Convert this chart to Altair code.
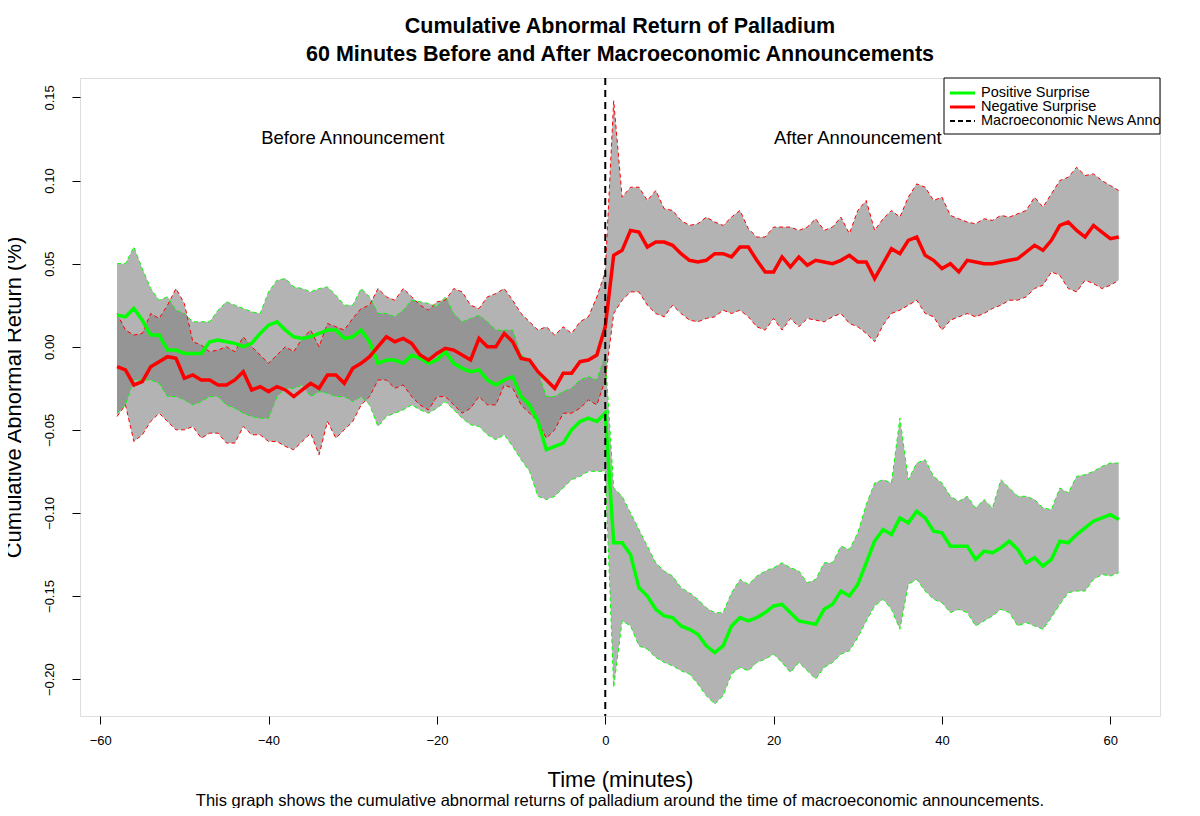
import altair as alt
import pandas as pd

minutes = list(range(-58, 62))

pos_mean = [0.019,0.018,0.023,0.016,0.007,0.007,-0.002,-0.002,-0.004,-0.004,-0.004,0.003,0.004,0.003,0.002,0.0,0.002,0.008,0.013,0.015,
0.01,0.006,0.005,0.006,0.008,0.01,0.01,0.005,0.006,0.01,0.003,-0.01,-0.008,-0.008,-0.01,-0.005,-0.007,-0.01,-0.008,-0.003,
-0.01,-0.013,-0.015,-0.014,-0.02,-0.023,-0.02,-0.018,-0.03,-0.035,-0.045,-0.062,-0.06,-0.058,-0.05,-0.045,-0.043,-0.045,-0.04,
-0.118,-0.118,-0.125,-0.145,-0.15,-0.158,-0.162,-0.163,-0.168,-0.17,-0.173,-0.18,-0.184,-0.18,-0.168,-0.163,-0.165,-0.163,-0.16,-0.156,
-0.155,-0.16,-0.165,-0.166,-0.167,-0.158,-0.155,-0.147,-0.15,-0.143,-0.13,-0.117,-0.11,-0.113,-0.103,-0.106,-0.099,-0.103,-0.111,-0.112,
-0.12,-0.12,-0.12,-0.128,-0.123,-0.124,-0.121,-0.117,-0.122,-0.13,-0.127,-0.132,-0.128,-0.117,-0.118,-0.113,-0.109,-0.105,-0.103,-0.101,-0.104]
pos_upper = [0.05,0.05,0.06,0.047,0.035,0.028,0.03,0.022,0.02,0.015,0.015,0.015,0.022,0.027,0.025,0.023,0.021,0.02,0.033,0.04,
0.041,0.036,0.035,0.033,0.035,0.036,0.031,0.025,0.025,0.035,0.03,0.02,0.02,0.018,0.022,0.028,0.027,0.026,0.024,0.03,
0.02,0.015,0.017,0.019,0.015,0.01,0.01,0.01,-0.005,-0.008,-0.015,-0.03,-0.03,-0.027,-0.025,-0.02,-0.018,-0.02,-0.005,
-0.085,-0.09,-0.1,-0.11,-0.12,-0.13,-0.135,-0.138,-0.145,-0.148,-0.152,-0.157,-0.16,-0.16,-0.148,-0.14,-0.143,-0.138,-0.135,-0.133,
-0.13,-0.133,-0.135,-0.142,-0.14,-0.13,-0.13,-0.12,-0.122,-0.112,-0.095,-0.082,-0.08,-0.082,-0.043,-0.08,-0.07,-0.068,-0.078,-0.082,
-0.09,-0.093,-0.09,-0.097,-0.092,-0.097,-0.08,-0.085,-0.09,-0.09,-0.092,-0.097,-0.098,-0.085,-0.088,-0.078,-0.077,-0.075,-0.072,-0.07,-0.07]
pos_lower = [-0.04,-0.035,-0.02,-0.02,-0.02,-0.022,-0.03,-0.03,-0.032,-0.035,-0.033,-0.03,-0.03,-0.035,-0.037,-0.04,-0.042,-0.043,-0.043,-0.03,
-0.025,-0.025,-0.023,-0.03,-0.027,-0.028,-0.03,-0.03,-0.033,-0.03,-0.035,-0.048,-0.042,-0.04,-0.038,-0.035,-0.038,-0.04,-0.037,-0.033,
-0.038,-0.043,-0.047,-0.048,-0.053,-0.056,-0.053,-0.06,-0.068,-0.075,-0.09,-0.092,-0.09,-0.085,-0.08,-0.078,-0.075,-0.075,-0.075,
-0.205,-0.165,-0.168,-0.18,-0.182,-0.187,-0.19,-0.192,-0.195,-0.197,-0.203,-0.21,-0.215,-0.21,-0.197,-0.193,-0.195,-0.19,-0.188,-0.185,
-0.19,-0.196,-0.19,-0.195,-0.2,-0.193,-0.19,-0.185,-0.183,-0.175,-0.165,-0.156,-0.152,-0.158,-0.17,-0.143,-0.14,-0.147,-0.152,-0.154,
-0.16,-0.158,-0.16,-0.168,-0.165,-0.162,-0.158,-0.16,-0.168,-0.166,-0.168,-0.17,-0.163,-0.155,-0.148,-0.147,-0.147,-0.14,-0.137,-0.138,-0.136]

neg_mean = [-0.012,-0.014,-0.023,-0.021,-0.012,-0.009,-0.006,-0.007,-0.019,-0.017,-0.02,-0.02,-0.023,-0.023,-0.02,-0.015,-0.026,-0.024,-0.027,-0.024,
-0.026,-0.03,-0.026,-0.022,-0.025,-0.017,-0.017,-0.022,-0.013,-0.01,-0.006,0.0,0.006,0.003,0.005,0.002,-0.005,-0.008,-0.004,-0.001,
-0.002,-0.005,-0.008,0.005,0.0,0.0,0.008,0.003,-0.007,-0.008,-0.015,-0.02,-0.025,-0.016,-0.016,-0.009,-0.008,-0.005,0.012,
0.055,0.058,0.07,0.069,0.06,0.063,0.063,0.061,0.056,0.052,0.051,0.052,0.056,0.056,0.054,0.06,0.06,0.052,0.045,0.045,
0.054,0.048,0.054,0.049,0.052,0.051,0.05,0.052,0.055,0.051,0.051,0.041,0.05,0.059,0.056,0.064,0.066,0.055,0.052,0.047,
0.05,0.045,0.052,0.051,0.05,0.05,0.051,0.052,0.053,0.057,0.061,0.058,0.064,0.073,0.075,0.07,0.066,0.073,0.069,0.065,0.066]
neg_upper = [0.02,0.01,0.007,0.008,0.02,0.017,0.025,0.035,0.026,0.003,0.001,-0.003,-0.002,0.0,-0.003,0.006,0.0,-0.005,-0.01,-0.005,
0.0,-0.003,0.005,0.01,0.0,0.014,0.012,0.01,0.017,0.023,0.025,0.035,0.03,0.028,0.035,0.03,0.025,0.022,0.027,0.028,
0.035,0.033,0.025,0.023,0.03,0.032,0.035,0.028,0.02,0.015,0.01,0.012,0.007,0.012,0.008,0.015,0.018,0.03,0.045,
0.148,0.09,0.096,0.096,0.088,0.094,0.083,0.082,0.076,0.073,0.074,0.078,0.075,0.073,0.078,0.082,0.071,0.066,0.066,0.072,
0.072,0.072,0.07,0.072,0.077,0.07,0.072,0.078,0.068,0.082,0.088,0.07,0.077,0.082,0.078,0.09,0.098,0.096,0.088,0.09,
0.079,0.077,0.075,0.074,0.077,0.076,0.079,0.078,0.08,0.082,0.09,0.084,0.092,0.1,0.102,0.108,0.103,0.104,0.1,0.097,0.094]
neg_lower = [-0.042,-0.035,-0.057,-0.053,-0.045,-0.04,-0.045,-0.05,-0.05,-0.048,-0.055,-0.052,-0.052,-0.058,-0.058,-0.048,-0.053,-0.053,-0.057,-0.057,
-0.06,-0.062,-0.057,-0.052,-0.065,-0.045,-0.055,-0.05,-0.045,-0.035,-0.03,-0.02,-0.02,-0.025,-0.023,-0.03,-0.035,-0.038,-0.03,-0.03,
-0.035,-0.04,-0.037,-0.03,-0.035,-0.035,-0.023,-0.025,-0.035,-0.04,-0.045,-0.055,-0.05,-0.04,-0.04,-0.037,-0.032,-0.035,-0.02,
0.02,0.028,0.033,0.033,0.025,0.02,0.018,0.025,0.02,0.016,0.015,0.017,0.018,0.022,0.02,0.022,0.018,0.012,0.01,0.017,
0.01,0.017,0.012,0.017,0.016,0.015,0.018,0.02,0.014,0.012,0.008,0.003,0.013,0.02,0.022,0.025,0.028,0.02,0.018,0.01,
0.016,0.018,0.02,0.018,0.02,0.023,0.025,0.028,0.028,0.03,0.035,0.037,0.045,0.043,0.035,0.033,0.04,0.038,0.035,0.037,0.04]

series = ["Positive Surprise", "Negative Surprise"]
colors = ["#00ff00", "#ff0000"]

rows = []
for name, m, u, l in [(series[0], pos_mean, pos_upper, pos_lower), (series[1], neg_mean, neg_upper, neg_lower)]:
    for t, a, b, c in zip(minutes, m, u, l):
        rows.append({"t": t, "mean": a, "upper": b, "lower": c, "series": name})
df = pd.DataFrame(rows)

W, H = 1080, 638
xs = alt.Scale(domain=[-62.4, 65.9], nice=False, zero=False)
ys = alt.Scale(domain=[-0.2222, 0.1617], nice=False, zero=False)
col = alt.Color("series:N", scale=alt.Scale(domain=series, range=colors), legend=None)

base = alt.Chart(df)
xenc = alt.X("t:Q", scale=xs, title="Time (minutes)",
             axis=alt.Axis(values=[-60, -40, -20, 0, 20, 40, 60], grid=False, domain=False,
                           tickColor="black", tickSize=8, labelFontSize=13, labelColor="black",
                           labelPadding=10, titleFontSize=22, titleFontWeight="normal",
                           titlePadding=22, titleColor="black"))
yenc_axis = alt.Axis(values=[-0.2, -0.15, -0.1, -0.05, 0, 0.05, 0.1, 0.15], format=".2f", grid=False,
                     domain=False, tickColor="black", tickSize=8, labelAngle=-90, labelAlign="center",
                     labelBaseline="bottom", labelPadding=16, labelFontSize=13, labelColor="black",
                     titleFontSize=22, titleFontWeight="normal", titlePadding=18, titleColor="black")

band = base.mark_area(color="#808080", opacity=0.6, clip=True).encode(
    x=xenc,
    y=alt.Y("upper:Q", scale=ys, title="Cumulative Abnormal Return (%)", axis=yenc_axis),
    y2="lower:Q", detail="series:N")
up = base.mark_line(strokeWidth=1, strokeDash=[4, 3], clip=True).encode(
    x="t:Q", y="upper:Q", color=col, detail="series:N")
lo = base.mark_line(strokeWidth=1, strokeDash=[4, 3], clip=True).encode(
    x="t:Q", y="lower:Q", color=col, detail="series:N")
mean = base.mark_line(strokeWidth=3.5, clip=True).encode(x="t:Q", y="mean:Q", color=col)

vline_df = pd.DataFrame({"t": [0]})
vline = alt.Chart(vline_df).mark_rule(color="black", strokeWidth=2, strokeDash=[7, 5]).encode(x="t:Q")

labels_df = pd.DataFrame({"t": [-30, 30], "v": [0.1255, 0.1255],
                          "txt": ["Before Announcement", "After Announcement"]})
labels = alt.Chart(labels_df).mark_text(fontSize=18.5, color="black", font="Liberation Sans").encode(
    x="t:Q", y="v:Q", text="txt:N")

caption = "This graph shows the cumulative abnormal returns of palladium around the time of macroeconomic announcements."
cap = alt.Chart(pd.DataFrame({"c": [caption]})).mark_text(fontSize=16.5, color="black", baseline="middle",
                                                          font="Liberation Sans").encode(
    x=alt.value(540), y=alt.value(723), text="c:N")

# legend
leg_names = ["Positive Surprise", "Negative Surprise", "Macroeconomic News Announcement"]
leg_colors = ["#00ff00", "#ff0000", "#000000"]
leg_box = alt.Chart(pd.DataFrame({"a": [0]})).mark_rect(fill="white", stroke="black", strokeWidth=1).encode(
    x=alt.value(864), x2=alt.value(1080), y=alt.value(0), y2=alt.value(56))
leg_layers = [leg_box]
for i, (n, c) in enumerate(zip(leg_names, leg_colors)):
    yy = 15 + 14 * i
    d = pd.DataFrame({"n": [n]})
    leg_layers.append(alt.Chart(d).mark_rule(color=c, strokeWidth=3 if i < 2 else 2,
                                             strokeDash=[1, 0] if i < 2 else [5, 3]).encode(
        x=alt.value(870), x2=alt.value(895), y=alt.value(yy)))
    leg_layers.append(alt.Chart(d).mark_text(align="left", baseline="middle", fontSize=14.5,
                                             color="black", clip=True, font="Liberation Sans").encode(
        x=alt.value(901), y=alt.value(yy), text="n:N"))

chart = alt.layer(band, up, lo, mean, vline, labels, *leg_layers, cap).properties(
    width=W, height=H,
    autosize=alt.AutoSizeParams(type="none"),
    padding={"left": 72, "top": 70, "right": 32, "bottom": 92},
    title=alt.TitleParams(
        text=["Cumulative Abnormal Return of Palladium",
              "60 Minutes Before and After Macroeconomic Announcements"],
        fontSize=21.5, fontWeight="bold", color="black", anchor="middle", offset=12, lineHeight=28),
).configure_view(stroke="#000000", strokeWidth=1.2, strokeOpacity=1).configure(font="Liberation Sans")

chart.save("out.html", embed_options={"renderer": "svg", "actions": False})
